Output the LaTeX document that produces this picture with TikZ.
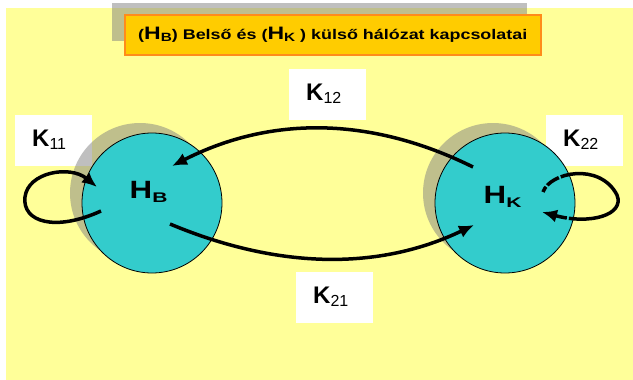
\documentclass[tikz,border=0pt]{standalone}
\usepackage{fontspec}
\setmainfont{Liberation Sans}
\usetikzlibrary{arrows.meta}
\definecolor{bgyellow}{RGB}{255,255,153}
\definecolor{netcyan}{RGB}{51,204,204}
\definecolor{titlefill}{RGB}{255,204,0}
\definecolor{titleline}{RGB}{255,140,26}
\definecolor{shadegray}{RGB}{128,128,128}
\newcommand{\Kl}[1]{{\fontsize{24}{28}\selectfont\bfseries K}{\fontsize{16}{18}\selectfont\raisebox{-3pt}{#1}}}
\newcommand{\Hl}[1]{\scalebox{1.25}[1]{\fontsize{25}{30}\selectfont\bfseries H}\scalebox{1.5}[1]{\fontsize{14}{16}\selectfont\bfseries\raisebox{-4pt}{#1}}}
\newcommand{\Ht}[1]{{\fontsize{18}{20}\selectfont H}{\fontsize{12}{14}\selectfont\raisebox{-2pt}{#1}}}

\begin{document}
\begin{tikzpicture}[x=1pt,y=-1pt,>={Latex[length=15pt,width=13pt]},every node/.style={inner sep=0pt},
  net/.style={circle,draw,line width=0.8pt,fill=netcyan,minimum size=140pt},
  netshade/.style={circle,fill=shadegray,fill opacity=0.5,minimum size=140pt},
  kbox/.style={fill=white,anchor=north west,align=left,text width=43pt,inner xsep=17pt,inner ysep=14pt,text height=17pt,text depth=6pt},
  link/.style={->,line width=3.5pt}]
\useasboundingbox (0,0) rectangle (633,380);
\fill[white] (0,0) rectangle (633,380);
\fill[bgyellow] (6,8) rectangle (633,380);
% title bar
\node[fill=shadegray,fill opacity=0.5,anchor=north west,minimum width=415pt,minimum height=38pt](hdrshade) at (112,3) {};
\node[fill=titlefill,draw=titleline,line width=1.5pt,anchor=north west,minimum width=416pt,minimum height=40pt,font=\bfseries\fontsize{14}{16}\selectfont](title) at (124,14) {\scalebox{1.28}[1]{(\Ht{B}) Belső és (\Ht{K} ) külső hálózat kapcsolatai}};
% labels
\node[kbox](K11) at (15,115) {\Kl{11}};
\node[kbox](K22) at (546,115) {\Kl{22}};
\node[kbox](K12) at (289,69) {\Kl{12}};
\node[kbox](K21) at (296,272) {\Kl{21}};
% networks
\node[netshade](HBs) at (140,193) {};
\node[netshade](HKs) at (493,193) {};
\node[net](HB) at (152,203) {};
\node[net](HK) at (505,203) {};
\node[anchor=base west](HBl) at (129.5,198) {\Hl{B}};
\node[anchor=base west](HKl) at (483.5,203) {\Hl{K}};
% connections
\draw[link]([shift={(-32,-36)}]HK.center) .. controls +(-103,-51) and +(98,-50) .. ([shift={(20,-37)}]HB.center);
\draw[link]([shift={(18,21)}]HB.center) .. controls +(110,46) and +(-94,45) .. ([shift={(-31,22)}]HK.center);
\draw[link]([shift={(-51,8)}]HB.center) .. controls +(-46,21) and +(-3,25) .. ([shift={(-127,-6)}]HB.center) .. controls +(3,-25) and +(-27,-22) .. ([shift={(-55,-16)}]HB.center);
\draw[link,dash pattern=on 6pt off 2pt on 14pt off 2pt on 128pt off 2pt on 80pt]([shift={(38,-11)}]HK.center) .. controls +(7,-20) and +(-17,-33) .. ([shift={(112,-8)}]HK.center) .. controls +(8,20) and +(48,13) .. ([shift={(37,9)}]HK.center);
\end{tikzpicture}
\end{document}
